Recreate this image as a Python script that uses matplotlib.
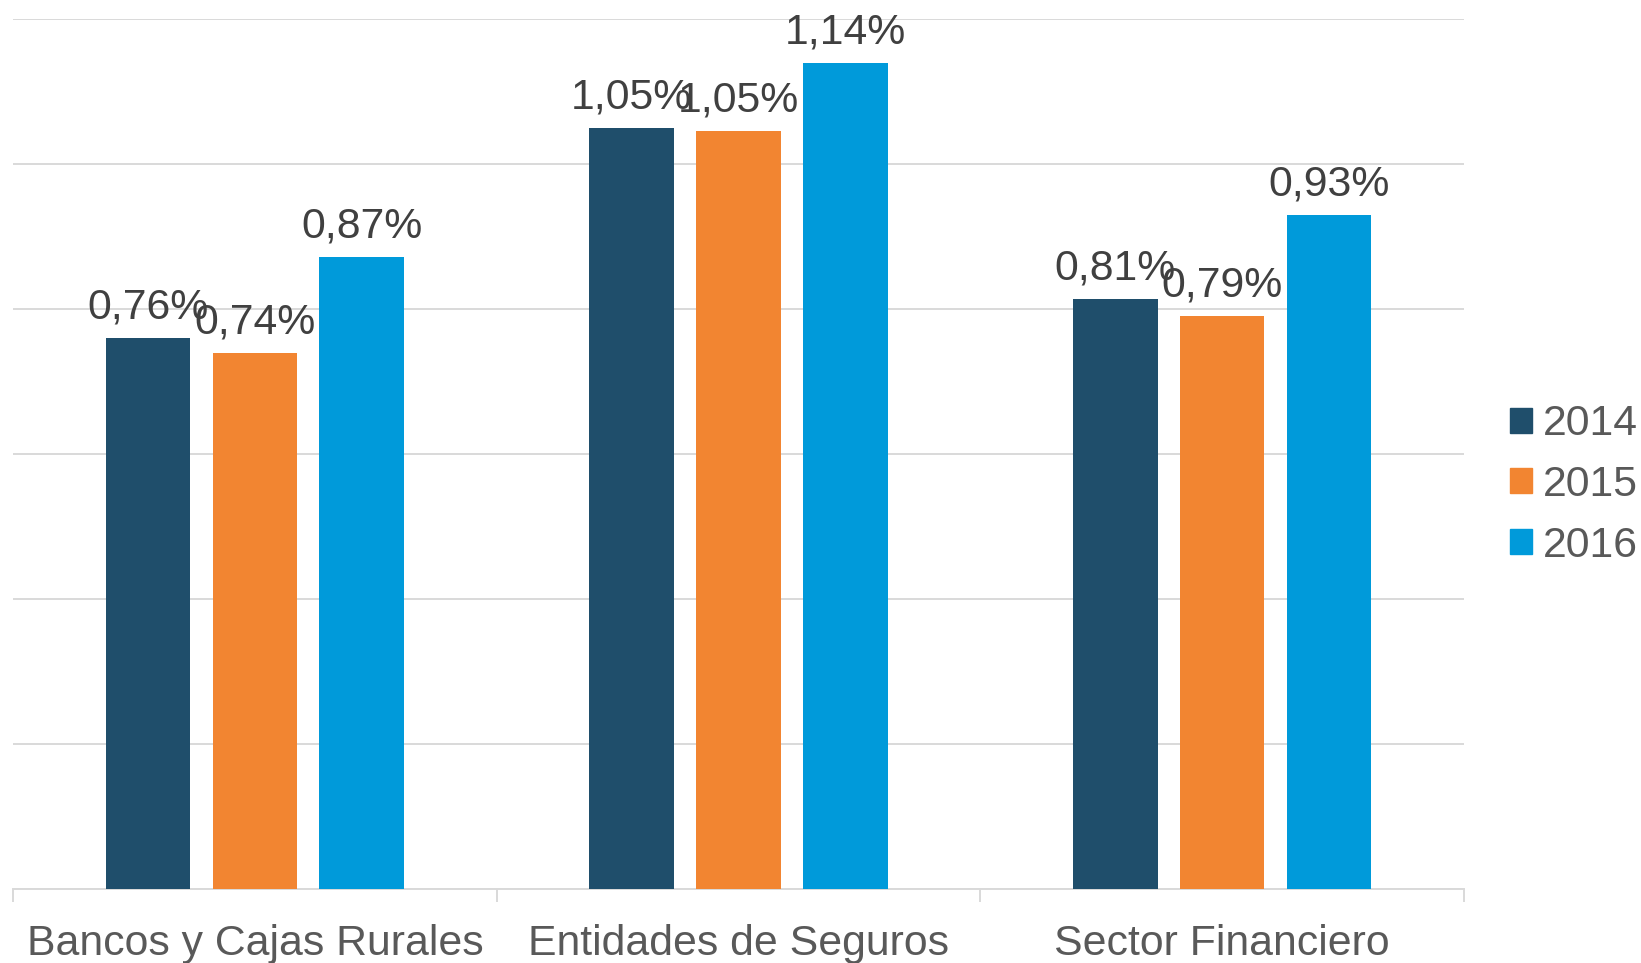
import matplotlib.pyplot as plt
import numpy as np
from matplotlib.patches import Patch

plt.rcParams['font.family'] = ['Liberation Sans', 'DejaVu Sans']

categories = ['Bancos y Cajas Rurales', 'Entidades de Seguros', 'Sector Financiero']
years = ['2014', '2015', '2016']
v2014 = [0.76, 1.05, 0.814]
v2015 = [0.74, 1.046, 0.79]
v2016 = [0.872, 1.139, 0.93]
colors = ['#1f4e6b', '#f28531', '#009ada']

fig = plt.figure(figsize=(16.41, 9.63), dpi=100)
ax = fig.add_axes([13 / 1641, 74 / 963, 1451 / 1641, 870 / 963])

x = np.arange(len(categories))
step = 0.221
width = 0.175
series = [v2014, v2015, v2016]
for i, (vals, col) in enumerate(zip(series, colors)):
    bars = ax.bar(x + (i - 1) * step, vals, width, color=col, zorder=3)
    for b, v in zip(bars, vals):
        ax.annotate(f"{v:.2f}%".replace('.', ','),
                    (b.get_x() + b.get_width() / 2, v),
                    xytext=(0, 14), textcoords='offset points',
                    ha='center', va='baseline', fontsize=30.8, color='#404040', zorder=4)

ax.set_xlim(-0.5, 2.5)
ax.set_ylim(0, 1.2)
ax.set_yticks(np.arange(0, 1.21, 0.2))
ax.yaxis.grid(True, color='#d9d9d9', linewidth=1.4, zorder=0)
ax.tick_params(axis='y', left=False, labelleft=False)

ax.set_xticks(x)
ax.set_xticklabels(categories, fontsize=30.8, color='#595959')
ax.set_xticks([-0.5, 0.5, 1.5, 2.5], minor=True)
ax.tick_params(axis='x', which='major', length=0, pad=25)
ax.tick_params(axis='x', which='minor', length=9, width=1.4, color='#d9d9d9')

for s in ['top', 'right', 'left']:
    ax.spines[s].set_visible(False)
ax.spines['bottom'].set_color('#d9d9d9')
ax.spines['bottom'].set_linewidth(1.4)

handles = [Patch(color=c, label=y) for c, y in zip(colors, years)]
fig.legend(handles=handles, loc='center left',
           bbox_to_anchor=(1510 / 1641, (963 - 485) / 963),
           frameon=False, fontsize=30.8, labelcolor='#595959',
           handlelength=0.52, handleheight=0.52, handletextpad=0.25,
           labelspacing=0.48, borderpad=0, borderaxespad=0)

fig.savefig('out.png', dpi=100)
